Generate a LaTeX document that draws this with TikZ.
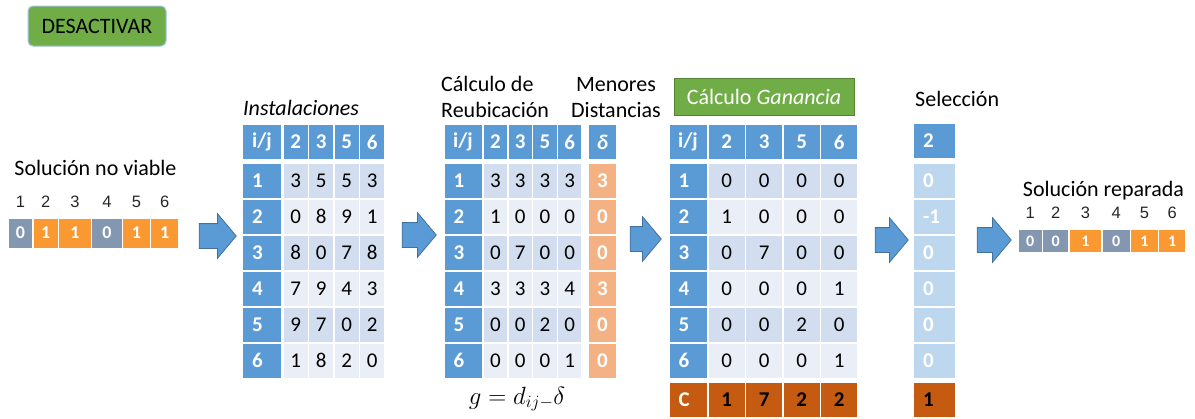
\documentclass[tikz,border=0pt]{standalone}
\usepackage{fontspec}
\setmainfont{Carlito}
\newfontfamily\arialfont{Liberation Sans}
\usepackage{xcolor}
\definecolor{hdrblue}{RGB}{91,155,213}
\definecolor{arrowblue}{RGB}{65,113,156}
\definecolor{rowdark}{RGB}{210,222,239}
\definecolor{rowlight}{RGB}{234,239,247}
\definecolor{deltaor}{RGB}{244,177,131}
\definecolor{corange}{RGB}{197,90,17}
\definecolor{selblue}{RGB}{189,215,238}
\definecolor{bitgray}{RGB}{132,151,176}
\definecolor{bitorange}{RGB}{250,152,50}
\definecolor{verde}{RGB}{112,173,71}
\definecolor{verdeosc}{RGB}{84,130,53}
\definecolor{boxborde}{RGB}{157,195,230}
\usepackage{tikz}
\usetikzlibrary{shapes.arrows, positioning}

\tikzset{
    celda/.style={inner sep=0pt, minimum height=34pt, font=\fontsize{21}{21}\selectfont},
    encab/.style={celda, fill=hdrblue, text=white, font=\bfseries\fontsize{21}{21}\selectfont},
    etiq/.style={encab, text width=20pt, inner xsep=9pt, align=left},
    dato/.style={celda, text=black},
    bit/.style={inner sep=0pt, text=white, font=\bfseries\fontsize{18}{18}\selectfont},
    numbit/.style={inner sep=0pt, font=\arialfont\fontsize{16.5}{16.5}\selectfont, text=black!85},
    titulo/.style={inner sep=0pt, font=\fontsize{22}{22}\selectfont, text=black},
    flecha/.style={single arrow, fill=hdrblue, draw=arrowblue, line width=0.8pt, inner xsep=0pt, inner ysep=12pt,
        single arrow head extend=10pt, single arrow tip angle=100, minimum width=44pt}
}

\begin{document}
\begin{tikzpicture}[x=1pt, y=-1pt]
    \useasboundingbox (0,0) rectangle (1195,418);

    \node[draw=boxborde, fill=verde, rounded corners=5pt, line width=1pt, minimum width=138pt, minimum height=40pt,
        font=\fontsize{22}{22}\selectfont] (desact) at (97,26) {DESACTIVAR};

    % solucion no viable
    \node[titulo, anchor=base] (nv-tit) at (95.5,175) {Solución no viable};
    \foreach \xa/\w/\v [count=\k] in {8/25/0, 33/25.5/1, 58.5/33/1, 91.5/31/0, 122.5/28/1, 150.5/28.5/1}{
        \ifnum\v=0 \def\fondo{bitgray}\else\def\fondo{bitorange}\fi
        \node[numbit, anchor=base] (nv-n\k) at ({\xa+\w/2},207.5) {\k};
        \node[bit, fill=\fondo, minimum width={\w-1.5}, minimum height=29pt] (nv-b\k) at ({\xa+\w/2},233) {\v};
    }

    \node[flecha, minimum height=37pt] (f1) at (212.5,236) {};

    % instalaciones
    \node[titulo, font=\itshape\fontsize{22}{22}\selectfont, anchor=base west] (inst-tit) at (243,115) {Instalaciones};
    \node[encab, minimum width=38.5pt] (inst-ij) at (262,142) {i/j};
    \foreach \v [count=\j] in {2,3,5,6}
        \node[encab, minimum width=24pt] (inst-h\j) at ({283+25.5*(\j-0.5)},142) {\v};
    \foreach \fila [count=\i] in {{3,5,5,3},{0,8,9,1},{8,0,7,8},{7,9,4,3},{9,7,0,2},{1,8,2,0}}{
        \ifodd\i\def\fondo{rowdark}\else\def\fondo{rowlight}\fi
        \node[etiq] (inst-f\i) at (262,{144.5+36*\i}) {\i};
        \foreach \v [count=\j] in \fila
            \node[dato, fill=\fondo, minimum width=24pt] (inst-\i-\j) at ({283+25.5*(\j-0.5)},{144.5+36*\i}) {\v};
    }

    \node[flecha, minimum height=34pt] (f2) at (414,235) {};

    % reubicacion
    \node[titulo, anchor=base west] (reu-tit1) at (441,91) {Cálculo de};
    \node[titulo, anchor=base west] (reu-tit2) at (441,117) {Reubicación};
    \node[titulo, anchor=base] (del-tit1) at (616,91) {Menores};
    \node[titulo, anchor=base] (del-tit2) at (616,117) {Distancias};
    \node[encab, minimum width=37pt] (reu-ij) at (463,142) {i/j};
    \foreach \v [count=\j] in {2,3,5,6}
        \node[encab, minimum width=23.25pt] (reu-h\j) at ({483+24.75*(\j-0.5)},142) {\v};
    \node[encab, minimum width=27pt, font=\bfseries\itshape\fontsize{21}{21}\selectfont] (del-h) at (602.5,142) {δ};
    \foreach \fila/\d [count=\i] in {{3,3,3,3}/3,{1,0,0,0}/0,{0,7,0,0}/0,{3,3,3,4}/3,{0,0,2,0}/0,{0,0,0,1}/0}{
        \ifodd\i\def\fondo{rowdark}\else\def\fondo{rowlight}\fi
        \node[etiq, text width=19pt] (reu-f\i) at (463,{144.5+36*\i}) {\i};
        \foreach \v [count=\j] in \fila
            \node[dato, fill=\fondo, minimum width=23.25pt] (reu-\i-\j) at ({483+24.75*(\j-0.5)},{144.5+36*\i}) {\v};
        \node[encab, fill=deltaor, minimum width=27pt] (del-\i) at (602.5,{144.5+36*\i}) {\d};
    }
    \node[titulo, font=\fontsize{25}{25}\selectfont, anchor=base] (formula) at (517,404) {$g = d_{ij-}\delta$};

    \node[flecha, minimum height=31pt] (f3) at (640.5,239) {};

    % ganancia
    \node[titulo, draw=verdeosc, fill=verde, text=white, line width=0.8pt, minimum width=180pt, minimum height=37pt]
        (gan-tit) at (764,96.5) {Cálculo \textit{Ganancia}};
    \node[encab, minimum width=37pt] (gan-ij) at (688,142) {i/j};
    \foreach \v [count=\j] in {2,3,5,6}
        \node[encab, minimum width=36pt] (gan-h\j) at ({708+37.5*(\j-0.5)},142) {\v};
    \foreach \fila [count=\i] in {{0,0,0,0},{1,0,0,0},{0,7,0,0},{0,0,0,1},{0,0,2,0},{0,0,0,1}}{
        \ifodd\i\def\fondo{rowdark}\else\def\fondo{rowlight}\fi
        \node[etiq, text width=19pt] (gan-f\i) at (688,{144.5+36*\i}) {\i};
        \foreach \v [count=\j] in \fila
            \node[dato, fill=\fondo, minimum width=36pt] (gan-\i-\j) at ({708+37.5*(\j-0.5)},{144.5+36*\i}) {\v};
    }
    \node[etiq, text width=19pt, fill=corange] (gan-c) at (688,399.5) {C};
    \foreach \v [count=\j] in {1,7,2,2}
        \node[encab, fill=corange, text=black, minimum width=36pt] (gan-c\j) at ({708+37.5*(\j-0.5)},399.5) {\v};

    \node[flecha, minimum height=33pt] (f4) at (886.5,240) {};

    % seleccion
    \node[titulo, anchor=base west] (sel-tit) at (915,106) {Selección};
    \node[etiq, text width=23pt] (sel-h) at (934.5,141) {2};
    \foreach \v [count=\i] in {0,-1,0,0,0,0}
        \node[etiq, text width=23pt, fill=selblue] (sel-\i) at (934.5,{144.5+36*\i}) {\v};
    \node[etiq, text width=23pt, fill=corange, text=black] (sel-c) at (934.5,399.5) {1};

    \node[flecha, minimum height=34pt] (f5) at (989,240) {};

    % solucion reparada
    \node[titulo, anchor=base] (rep-tit) at (1103.5,196) {Solución reparada};
    \foreach \xa/\w/\v [count=\k] in {1018/24.5/0, 1042.5/26.5/0, 1069/33/1, 1102/28.5/0, 1130.5/28/1, 1158.5/27.5/1}{
        \ifnum\v=0 \def\fondo{bitgray}\else\def\fondo{bitorange}\fi
        \node[numbit, anchor=base] (rep-n\k) at ({\xa+\w/2},218.5) {\k};
        \node[bit, fill=\fondo, minimum width={\w-1.5}, minimum height=22pt, font=\bfseries\fontsize{16}{16}\selectfont]
            (rep-b\k) at ({\xa+\w/2},241) {\v};
    }
\end{tikzpicture}
\end{document}
